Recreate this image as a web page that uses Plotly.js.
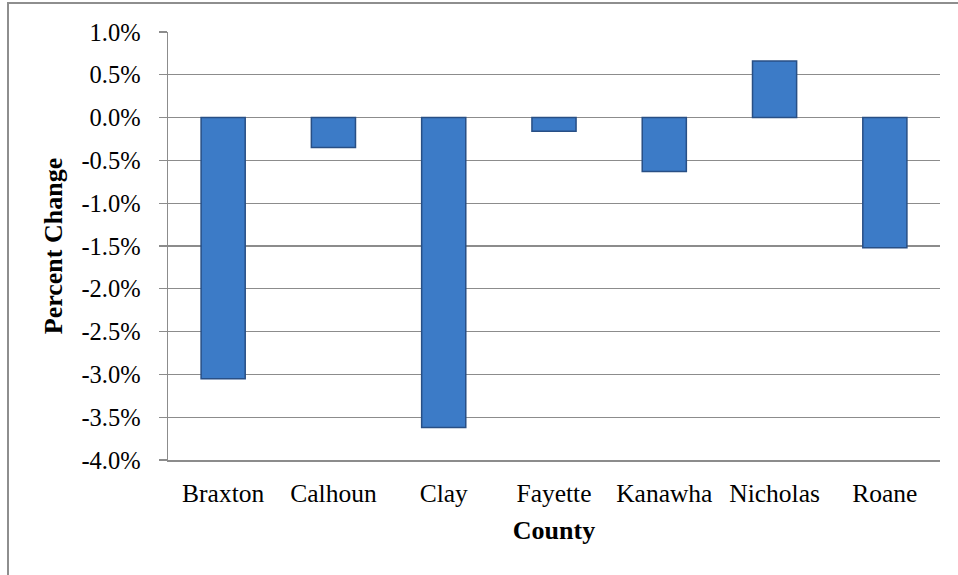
<!DOCTYPE html>
<html>
<head>
<meta charset="utf-8">
<script src="https://cdn.plot.ly/plotly-3.0.1.min.js"></script>
<style>
  html, body { margin: 0; padding: 0; background: #ffffff; }
  #wrap { position: relative; width: 958px; height: 575px; overflow: hidden; }
  #frame { position: absolute; left: 7px; top: 2px; width: 980px; height: 600px; border: 2px solid #8e8e8e; box-sizing: border-box; pointer-events: none; }
  #chart { position: absolute; left: 0; top: 0; width: 958px; height: 575px; }
</style>
</head>
<body>
<div id="wrap">
  <div id="chart"></div>
  <div id="frame"></div>
</div>
<script>
const counties = ["Braxton", "Calhoun", "Clay", "Fayette", "Kanawha", "Nicholas", "Roane"];
const percentChange = [-3.05, -0.35, -3.62, -0.16, -0.63, 0.66, -1.52];
const yTickVals = [1.0, 0.5, 0.0, -0.5, -1.0, -1.5, -2.0, -2.5, -3.0, -3.5, -4.0];
const yTickText = ["1.0%", "0.5%", "0.0%", "-0.5%", "-1.0%", "-1.5%", "-2.0%", "-2.5%", "-3.0%", "-3.5%", "-4.0%"];
const xTitle = "County";
const yTitle = "Percent Change";

const serif = "'Liberation Serif', 'Times New Roman', serif";

const trace = {
  type: "bar",
  x: counties,
  y: percentChange,
  width: 0.4,
  marker: {
    color: "#3c7bc7",
    line: { color: "#284f85", width: 1.5 }
  },
  hoverinfo: "x+y"
};

const layout = {
  width: 958,
  height: 575,
  margin: { l: 168, r: 18, t: 32, b: 114.5, pad: 0 },
  paper_bgcolor: "rgba(0,0,0,0)",
  plot_bgcolor: "#ffffff",
  showlegend: false,
  font: { family: serif, color: "#000000", size: 20 },
  xaxis: {
    type: "category",
    showgrid: false,
    showline: true,
    linecolor: "#8c8c8c",
    linewidth: 1.5,
    ticks: "",
    tickfont: { family: serif, size: 25.5, color: "#000000" },
    ticklabelstandoff: 10,
    title: { text: "<b>" + xTitle + "</b>", font: { family: serif, size: 26, color: "#000000" }, standoff: 13 },
    fixedrange: true
  },
  yaxis: {
    range: [-4, 1],
    tickvals: yTickVals,
    ticktext: yTickText,
    showgrid: true,
    gridcolor: "#8c8c8c",
    gridwidth: 1.3,
    zeroline: false,
    showline: true,
    linecolor: "#8c8c8c",
    linewidth: 1.5,
    ticks: "outside",
    ticklen: 8,
    tickcolor: "#8c8c8c",
    tickwidth: 1.3,
    tickfont: { family: serif, size: 24.5, color: "#000000" },
    ticklabelstandoff: 13,
    title: { text: "<b>" + yTitle + "</b>", font: { family: serif, size: 26, color: "#000000" }, standoff: 11 },
    fixedrange: true
  }
};

Plotly.newPlot("chart", [trace], layout, { displayModeBar: false, staticPlot: true });
</script>
</body>
</html>
